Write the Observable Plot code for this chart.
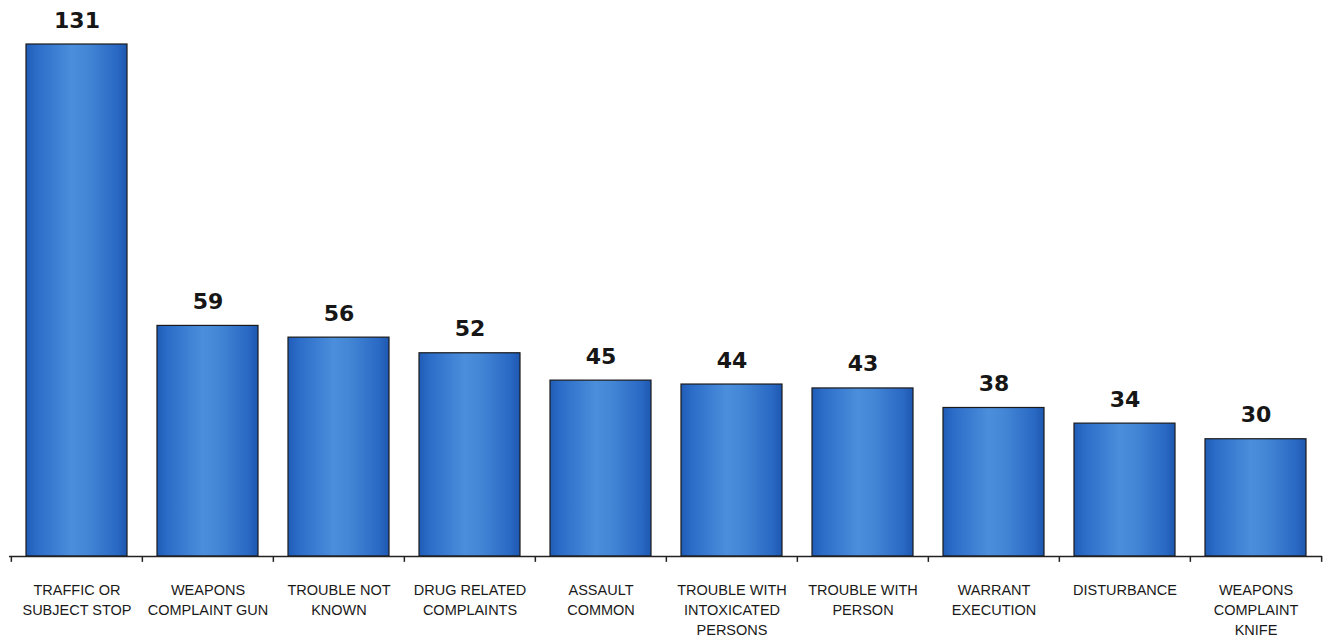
<!DOCTYPE html>
<html>
<head>
<meta charset="utf-8">
<script src="https://cdn.jsdelivr.net/npm/d3@7"></script>
<script src="https://cdn.jsdelivr.net/npm/@observablehq/plot@0.6"></script>
<style>
  html, body { margin: 0; padding: 0; background: #ffffff; }
  #chart { width: 1326px; height: 637px; }
</style>
</head>
<body>
<div id="chart"></div>
<script>
const categories = [
  "TRAFFIC OR SUBJECT STOP", "WEAPONS COMPLAINT GUN", "TROUBLE NOT KNOWN",
  "DRUG RELATED COMPLAINTS", "ASSAULT COMMON", "TROUBLE WITH INTOXICATED PERSONS",
  "TROUBLE WITH PERSON", "WARRANT EXECUTION", "DISTURBANCE", "WEAPONS COMPLAINT KNIFE"
];
const tickLabels = [
  "TRAFFIC OR\nSUBJECT STOP", "WEAPONS\nCOMPLAINT GUN", "TROUBLE NOT\nKNOWN",
  "DRUG RELATED\nCOMPLAINTS", "ASSAULT\nCOMMON", "TROUBLE WITH\nINTOXICATED\nPERSONS",
  "TROUBLE WITH\nPERSON", "WARRANT\nEXECUTION", "DISTURBANCE", "WEAPONS\nCOMPLAINT\nKNIFE"
];
const values = [131, 59, 56, 52, 45, 44, 43, 38, 34, 30];

const data = categories.map((c, i) => ({category: c, label: tickLabels[i], value: values[i]}));

const W = 1326, H = 637, mL = 9, mR = 4;
const step = (W - mL - mR) / categories.length;

const plot = Plot.plot({
  width: W,
  height: H,
  marginTop: 44,
  marginBottom: 81,
  marginLeft: mL,
  marginRight: mR,
  x: {domain: categories, paddingInner: 0.23, paddingOuter: 0.115, axis: null},
  y: {domain: [0, 131], axis: null},
  style: {background: "#ffffff", color: "#1a1a1a"},
  marks: [
    Plot.barY(data, {x: "category", y: "value", fill: "url(#barGrad)", stroke: "#1a1a1a", strokeWidth: 1.2}),
    Plot.text(data, {
      x: "category", y: "value", text: d => String(d.value),
      dy: -17, lineAnchor: "bottom", fontSize: 22, fontWeight: "bold",
      fontFamily: "DejaVu Sans", fill: "#161616"
    }),
    Plot.ruleY([0], {stroke: "#222222", strokeWidth: 1.5}),
    Plot.ruleX(categories, {x: d => d, y1: 0, y2: -1.5, dx: -step / 2, stroke: "#222222", strokeWidth: 1.5}),
    Plot.ruleX([categories[categories.length - 1]], {x: d => d, y1: 0, y2: -1.5, dx: step / 2, stroke: "#222222", strokeWidth: 1.5}),
    Plot.text(data, {
      x: "category", y: 0, text: "label", dy: 24, lineAnchor: "top",
      lineHeight: 1.38, fontSize: 14.5, fontFamily: "Liberation Sans", fill: "#1a1a1a"
    })
  ]
});

const svg = d3.select(plot);
const defs = svg.insert("defs", ":first-child");
const grad = defs.append("linearGradient").attr("id", "barGrad")
  .attr("x1", "0").attr("x2", "1").attr("y1", "0").attr("y2", "0");
[
  [0, "#1f5cb6"], [0.1, "#2b6cc8"], [0.45, "#4b8edb"], [0.6, "#4487d6"],
  [0.9, "#2a69c4"], [1, "#1e58b0"]
].forEach(([o, c]) => grad.append("stop").attr("offset", o).attr("stop-color", c));

document.getElementById("chart").appendChild(plot);
</script>
</body>
</html>
